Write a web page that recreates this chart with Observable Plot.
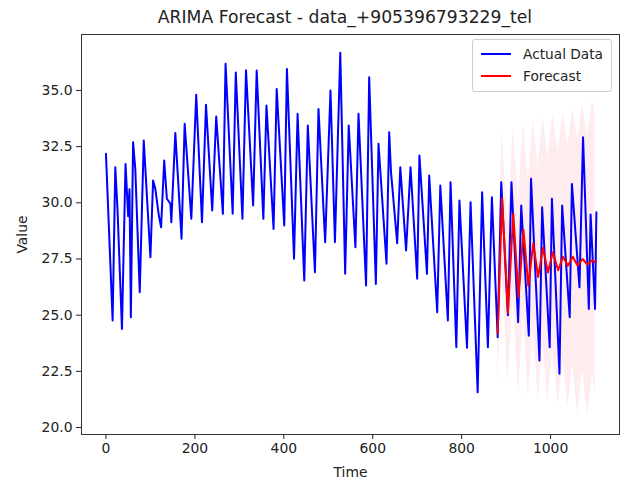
<!DOCTYPE html>
<html>
<head>
<meta charset="utf-8">
<script src="https://cdn.jsdelivr.net/npm/d3@7"></script>
<script src="https://cdn.jsdelivr.net/npm/@observablehq/plot@0.6"></script>
<style>
  html, body { margin: 0; padding: 0; background: #fff; }
  #wrap { position: relative; width: 631px; height: 483px; font-family: "DejaVu Sans", sans-serif; color: #222; }
  #title { position: absolute; left: 0; width: 690px; top: 7px; text-align: center; font-size: 17.2px; white-space: nowrap; }
  #legend { position: absolute; right: 19px; top: 39px; background: rgba(255,255,255,0.8); border: 1px solid #cccccc; border-radius: 3px; padding: 3px 8px 4px 8px; font-size: 13.7px; }
  .row { display: flex; align-items: center; height: 22px; }
  .sw { width: 30px; height: 0; border-top: 2px solid; margin-right: 12px; }
</style>
</head>
<body>
<div id="wrap">
  <div id="chart"></div>
  <div id="title">ARIMA Forecast - data_+905396793229_tel</div>
  <div id="legend">
    <div class="row"><div class="sw" style="border-color:blue"></div><span>Actual Data</span></div>
    <div class="row"><div class="sw" style="border-color:red"></div><span>Forecast</span></div>
  </div>
</div>
<script>
// Actual data (vertices)
const actualTime = [0,15,21,26,36,44,50,53,56,61,66,76,85,100,106,111,119,124,131,137,145,147,156,170,177,192,203,216,225,239,248,263,269,285,292,307,315,331,339,354,361,377,384,401,407,423,431,446,454,470,478,493,505,515,527,538,546,561,568,585,592,607,613,631,637,641,655,662,675,685,700,705,722,727,745,752,769,775,788,795,812,820,836,846,859,868,881,889,904,912,927,934,951,956,975,981,998,1003,1020,1026,1043,1048,1065,1073,1086,1090,1100,1103];
const actualValue = [32.18,24.76,31.58,29.7,24.39,31.73,29.4,30.6,24.91,32.7,31.5,26.02,32.77,27.58,30.99,30.62,29.43,28.91,31.88,30.18,29.96,29.14,33.11,28.4,33.52,29.29,34.81,29.14,34.36,29.66,33.84,29.51,36.19,29.51,35.8,29.29,35.9,29.88,35.89,29.29,34.33,28.84,35.07,28.99,35.96,27.51,33.96,26.54,33.44,26.91,34.18,28.25,35.0,28.25,36.68,26.84,33.44,28.02,33.96,26.32,35.59,26.39,32.63,27.29,33.14,31.4,28.2,31.58,27.88,31.58,26.62,32.1,26.84,31.21,25.13,30.77,24.76,30.92,23.57,30.1,23.55,30.03,21.57,30.47,23.57,30.25,24.02,30.92,25.0,30.92,24.69,29.88,24.09,31.07,22.98,29.8,23.57,30.18,22.39,29.88,24.91,30.84,26.24,32.92,25.28,29.48,25.28,29.58];

// Forecast and its confidence interval
const forecastTime  = [881,891,904,916,928,939,950,961,972,983,994,1005,1017,1028,1039,1050,1061,1072,1083,1094,1100];
const forecastValue = [24.2,30.2,25.1,29.5,25.8,28.8,26.3,28.2,26.7,28.0,26.9,27.8,27.0,27.6,27.2,27.6,27.2,27.5,27.25,27.45,27.35];
const ciUpper = [26.5,33.2,29.0,33.4,30.0,33.6,31.0,33.7,31.6,33.8,32.0,33.9,32.3,34.0,32.6,34.2,32.8,34.4,33.0,34.6,34.0];
const ciLower = [21.8,27.0,22.0,26.0,21.5,25.0,21.4,24.5,21.2,23.8,21.1,23.5,21.0,23.0,20.9,22.8,20.6,22.6,20.5,22.4,21.5];

const xTicks = [0,200,400,600,800,1000];
const yTicks = [20.0,22.5,25.0,27.5,30.0,32.5,35.0];

const actual = actualTime.map((t, i) => ({t, v: actualValue[i]}));
const forecast = forecastTime.map((t, i) => ({t, v: forecastValue[i], lo: ciLower[i], hi: ciUpper[i]}));

const fs = 13.9;
const chart = Plot.plot({
  width: 631,
  height: 483,
  marginLeft: 81,
  marginRight: 12,
  marginTop: 34,
  marginBottom: 49,
  style: {fontFamily: "DejaVu Sans, sans-serif", fontSize: fs + "px", color: "#222", background: "#fff"},
  x: {domain: [-55, 1155]},
  y: {domain: [19.69, 37.49]},
  marks: [
    Plot.areaY(forecast, {x: "t", y1: "lo", y2: "hi", fill: "pink", fillOpacity: 0.3}),
    Plot.line(actual, {x: "t", y: "v", stroke: "blue", strokeWidth: 2}),
    Plot.line(forecast, {x: "t", y: "v", stroke: "red", strokeWidth: 2}),
    Plot.frame({stroke: "#333", strokeWidth: 1}),
    Plot.axisX({ticks: xTicks, tickSize: 5, tickPadding: 4, fontSize: fs, tickFormat: d3.format("d"),
      label: "Time", labelAnchor: "center", labelArrow: "none", labelOffset: 42}),
    Plot.axisY({ticks: yTicks, tickSize: 5, tickPadding: 4, fontSize: fs, tickFormat: d3.format(".1f"),
      label: "Value", labelAnchor: "center", labelArrow: "none", labelOffset: 64})
  ]
});
document.getElementById("chart").appendChild(chart);
</script>
</body>
</html>
